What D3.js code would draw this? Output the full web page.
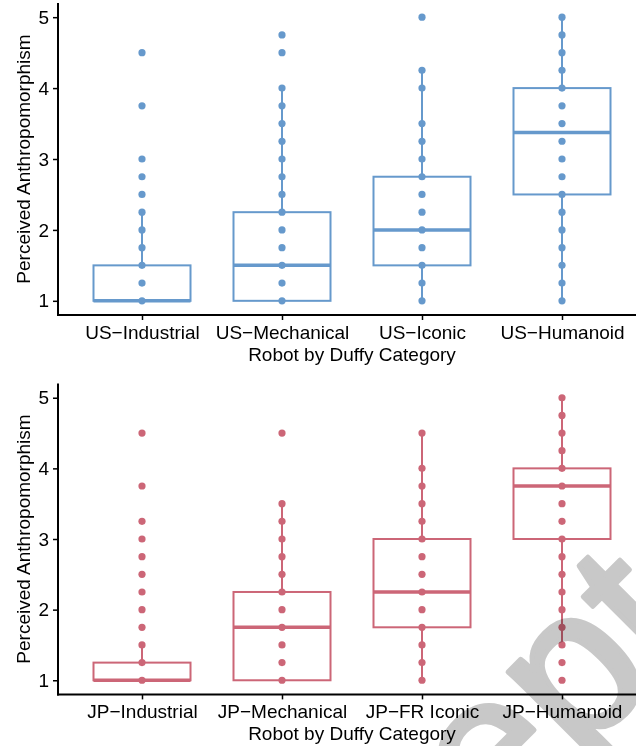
<!DOCTYPE html>
<html>
<head>
<meta charset="utf-8">
<title>Perceived Anthropomorphism by Duffy Category</title>
<script src="https://cdn.jsdelivr.net/npm/d3@7"></script>
<style>
  body { margin: 0; background: #fff; }
  text { font-family: "Liberation Sans", Arial, sans-serif; }
</style>
</head>
<body>
<script>
// ---- data ----
var usCats = ["US\u2212Industrial", "US\u2212Mechanical", "US\u2212Iconic", "US\u2212Humanoid"];
var usLower  = [1, 1, 1, 1];
var usQ1     = [1, 1, 1.5, 2.5];
var usMedian = [1, 1.5, 2, 3.375];
var usQ3     = [1.5, 2.25, 2.75, 4];
var usUpper  = [2.25, 4, 4.25, 5];
var usPoints = [
  [1, 1.25, 1.5, 1.75, 2, 2.25, 2.5, 2.75, 3, 3.75, 4.5],
  [1, 1.25, 1.5, 1.75, 2, 2.25, 2.5, 2.75, 3, 3.25, 3.5, 3.75, 4, 4.5, 4.75],
  [1, 1.25, 1.5, 1.75, 2, 2.25, 2.5, 2.75, 3, 3.25, 3.5, 4, 4.25, 5],
  [1, 1.25, 1.5, 1.75, 2, 2.25, 2.5, 2.75, 3, 3.25, 3.5, 3.75, 4, 4.25, 4.5, 4.75, 5]
];

var jpCats = ["JP\u2212Industrial", "JP\u2212Mechanical", "JP\u2212FR Iconic", "JP\u2212Humanoid"];
var jpLower  = [1, 1, 1, 1.5];
var jpQ1     = [1, 1, 1.75, 3];
var jpMedian = [1, 1.75, 2.25, 3.75];
var jpQ3     = [1.25, 2.25, 3, 4];
var jpUpper  = [1.5, 3.5, 4.5, 5];
var jpPoints = [
  [1, 1.25, 1.5, 1.75, 2, 2.25, 2.5, 2.75, 3, 3.25, 3.75, 4.5],
  [1, 1.25, 1.5, 1.75, 2, 2.25, 2.5, 2.75, 3, 3.25, 3.5, 4.5],
  [1, 1.25, 1.5, 1.75, 2, 2.25, 2.5, 2.75, 3, 3.25, 3.5, 3.75, 4, 4.5],
  [1, 1.25, 1.5, 1.75, 2, 2.25, 2.5, 2.75, 3, 3.25, 3.5, 3.75, 4, 4.25, 4.5, 4.75, 5]
];

var yTicks = [1, 2, 3, 4, 5];
var yTitle = "Perceived Anthropomorphism";
var xTitle = "Robot by Duffy Category";

var width = 636, height = 746;
var svg = d3.select('body').append('svg').attr('width', width).attr('height', height);
svg.append('rect').attr('width', width).attr('height', height).attr('fill', '#fff');

// one panel of the figure
function drawPanel(cats, lower, q1, med, q3, upper, pts, color, top, bottom) {
  var left = 58, right = 646;
  var g = svg.append('g');
  var x = d3.scalePoint().domain(cats).range([left, right]).padding(0.6);
  var y = d3.scaleLinear().domain([0.8, 5.2]).range([bottom, top]);
  var half = 48.5;

  var rows = cats.map(function (c, i) {
    return {cat: c, lo: lower[i], q1: q1[i], med: med[i], q3: q3[i], hi: upper[i], pts: pts[i]};
  });

  // whiskers
  g.selectAll('line.wup').data(rows).enter().append('line')
    .attr('x1', function (d) { return x(d.cat); })
    .attr('x2', function (d) { return x(d.cat); })
    .attr('y1', function (d) { return y(d.q3); })
    .attr('y2', function (d) { return y(d.hi); })
    .attr('stroke', color).attr('stroke-width', 2);
  g.selectAll('line.wlo').data(rows).enter().append('line')
    .attr('x1', function (d) { return x(d.cat); })
    .attr('x2', function (d) { return x(d.cat); })
    .attr('y1', function (d) { return y(d.q1); })
    .attr('y2', function (d) { return y(d.lo); })
    .attr('stroke', color).attr('stroke-width', 2);

  // boxes
  g.selectAll('rect.box').data(rows).enter().append('rect')
    .attr('x', function (d) { return x(d.cat) - half; })
    .attr('y', function (d) { return y(d.q3); })
    .attr('width', half * 2)
    .attr('height', function (d) { return y(d.q1) - y(d.q3); })
    .attr('fill', '#fff')
    .attr('stroke', color).attr('stroke-width', 2);

  // medians
  g.selectAll('line.med').data(rows).enter().append('line')
    .attr('x1', function (d) { return x(d.cat) - half; })
    .attr('x2', function (d) { return x(d.cat) + half; })
    .attr('y1', function (d) { return y(d.med); })
    .attr('y2', function (d) { return y(d.med); })
    .attr('stroke', color).attr('stroke-width', 3.5);

  // points
  rows.forEach(function (r) {
    g.selectAll(null).data(r.pts).enter().append('circle')
      .attr('cx', x(r.cat))
      .attr('cy', function (d) { return y(d); })
      .attr('r', 3.6)
      .attr('fill', color);
  });

  // axes
  var ax = g.append('g').attr('transform', 'translate(' + left + ',0)')
    .call(d3.axisLeft(y).tickValues(yTicks).tickSize(5).tickPadding(4).tickFormat(d3.format('d')));
  ax.select('.domain').remove();
  var bx = g.append('g').attr('transform', 'translate(0,' + bottom + ')')
    .call(d3.axisBottom(x).tickSize(5).tickPadding(5));
  bx.select('.domain').remove();
  [ax, bx].forEach(function (a) {
    a.selectAll('.tick line').attr('stroke', '#000').attr('stroke-width', 1.5);
    a.selectAll('.tick text').attr('fill', '#000').attr('font-size', 19)
      .attr('font-family', '"Liberation Sans", Arial, sans-serif');
  });
  bx.selectAll('.tick text').attr('dy', '0.72em');

  g.append('line').attr('x1', left).attr('x2', left).attr('y1', top).attr('y2', bottom + 1)
    .attr('stroke', '#000').attr('stroke-width', 2);
  g.append('line').attr('x1', left - 1).attr('x2', width).attr('y1', bottom).attr('y2', bottom)
    .attr('stroke', '#000').attr('stroke-width', 2);

  g.append('text').text(xTitle)
    .attr('x', (left + right) / 2).attr('y', bottom + 45.5)
    .attr('text-anchor', 'middle').attr('font-size', 19).attr('fill', '#000');
  g.append('text').text(yTitle)
    .attr('transform', 'translate(30,' + (top + bottom) / 2 + ') rotate(-90)')
    .attr('text-anchor', 'middle').attr('font-size', 19).attr('fill', '#000');
}

drawPanel(usCats, usLower, usQ1, usMedian, usQ3, usUpper, usPoints, '#6699CC', 3, 315);
drawPanel(jpCats, jpLower, jpQ1, jpMedian, jpQ3, jpUpper, jpPoints, '#CC6677', 383.6, 694.4);

// grey watermark over the lower right corner
var wmSize = 210;
var wm = svg.append('g').attr('transform', 'translate(577,760) rotate(-45)')
  .style('mix-blend-mode', 'multiply');
var probe = wm.append('text').attr('font-size', wmSize).text('Acce');
var offset = probe.node().getComputedTextLength();
probe.remove();
wm.append('text').text('Accepted Manuscript')
  .attr('x', -offset).attr('font-size', wmSize)
  .attr('fill', '#c8c8c8').attr('stroke', '#c8c8c8').attr('stroke-width', 5)
  .attr('stroke-linejoin', 'round');
</script>
</body>
</html>
